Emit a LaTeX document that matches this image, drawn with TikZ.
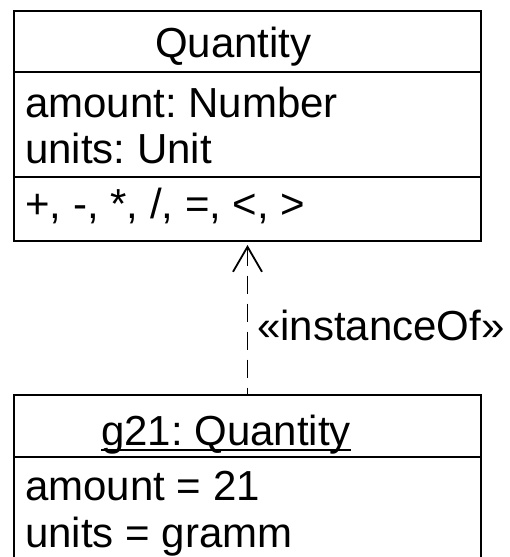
\documentclass[tikz,border=0pt]{standalone}
\usepackage{fontspec}
\setmainfont{Liberation Sans}
\usetikzlibrary{arrows.meta}
\frenchspacing

\begin{document}
\begin{tikzpicture}[
        x=1pt, y=-1pt,
        box/.style={draw, line width=2pt, minimum width=467pt, inner sep=0pt},
        txt/.style={inner sep=0pt, anchor=base west, font=\fontsize{42}{48}\selectfont},
        instance/.style={draw, line width=1.8pt, dash pattern=on 18pt off 10pt,
            {Straight Barb[length=25pt, width=29pt]}-},
    ]
    \useasboundingbox (0,0) rectangle (509,557);
    \clip (0,0) rectangle (509,557);

    % class Quantity
    \node[box, minimum height=61pt] (qtop) at (247.5,41.5) {};
    \node[box, minimum height=105pt] (qattr) at (247.5,124.5) {};
    \node[box, minimum height=64pt] (qops) at (247.5,209) {};
    \node[txt] (qname) at (155,57) {Quantity};
    \node[txt] (qamount) at (25,117) {amount: Number};
    \node[txt] (qunits) at (25,163) {units: Unit};
    \node[txt] (qopsline) at (25,218) {+, -, *, /, =, <, >};

    % object g21
    \node[box, minimum height=62pt] (gtop) at (247.5,426) {};
    \node[box, minimum height=143pt] (gattr) at (247.5,528.5) {};
    \node[txt] (gname) at (101,445) {g21: Quantity};
    \draw[line width=1.5pt] ([yshift=-5pt]gname.base west) -- ([yshift=-5pt]gname.base east);
    \node[txt] (gamount) at (25,500) {amount = 21};
    \node[txt] (gunits) at (25,547) {units = gramm};

    % dependency
    \draw[instance, shorten <=3pt] (qops.south) -- (gtop.north);
    \node[txt] (stereo) at (257,340) {«instanceOf»};
\end{tikzpicture}
\end{document}
